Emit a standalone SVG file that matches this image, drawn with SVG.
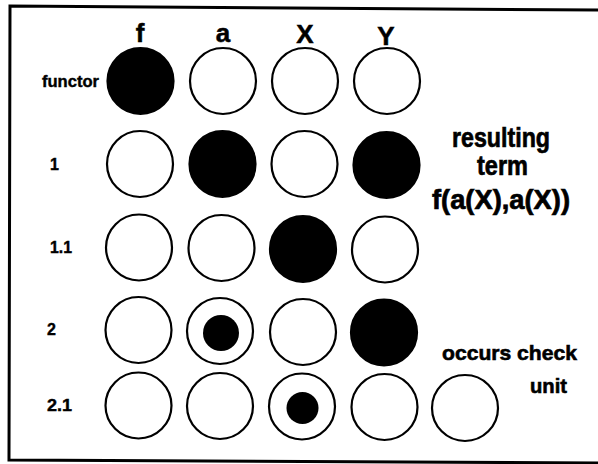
<svg xmlns="http://www.w3.org/2000/svg" width="598" height="464" viewBox="0 0 598 464">
<style>
  text { font-family: "Liberation Sans", Arial, sans-serif; font-weight: bold; fill: #000; stroke: #000; stroke-width: 0.5; }
  .hdr { font-size: 26px; text-anchor: middle; }
  .row { font-size: 16px; stroke-width: 0.4; }
  .big { font-size: 28px; stroke-width: 0.7; }
  .med { font-size: 21px; stroke-width: 0.6; }
  .c { fill: #fff; stroke: #000; stroke-width: 2.2; }
  .f { fill: #000; stroke: #000; stroke-width: 2.2; }
  .dot { fill: #000; }
  .frame { fill: none; stroke: #000; stroke-width: 3; }
</style>
<rect width="598" height="464" fill="#fff"/>
<g id="frame">
  <path class="frame" d="M598,10 L10,6 L9,460 L598,463"/>
</g>
<g id="headers">
  <text class="hdr" x="140" y="42">f</text>
  <text class="hdr" x="223" y="42">a</text>
  <text class="hdr" x="305" y="43">X</text>
  <text class="hdr" x="386" y="45">Y</text>
</g>
<g id="row-labels">
  <text class="row" x="42" y="87" textLength="57" lengthAdjust="spacingAndGlyphs">functor</text>
  <text class="row" x="50" y="170">1</text>
  <text class="row" x="50" y="253" textLength="22" lengthAdjust="spacingAndGlyphs">1.1</text>
  <text class="row" x="47" y="335">2</text>
  <text class="row" x="47" y="411" textLength="25" lengthAdjust="spacingAndGlyphs">2.1</text>
</g>
<g id="row-functor">
  <circle class="f" cx="140.5" cy="81" r="33"/>
  <circle class="c" cx="223" cy="81" r="33"/>
  <circle class="c" cx="305" cy="81" r="33"/>
  <circle class="c" cx="387" cy="81" r="33"/>
</g>
<g id="row-1">
  <circle class="c" cx="140" cy="164" r="33"/>
  <circle class="f" cx="222.5" cy="164" r="33"/>
  <circle class="c" cx="304.5" cy="164" r="33"/>
  <circle class="f" cx="386.5" cy="165" r="33"/>
</g>
<g id="row-1-1">
  <circle class="c" cx="139" cy="247.5" r="33"/>
  <circle class="c" cx="221.5" cy="248" r="33"/>
  <circle class="f" cx="303" cy="249" r="33"/>
  <circle class="c" cx="385" cy="249.5" r="33"/>
</g>
<g id="row-2">
  <circle class="c" cx="138.5" cy="330" r="33"/>
  <circle class="c" cx="220" cy="331" r="33"/>
  <circle class="dot" cx="221" cy="333" r="18"/>
  <circle class="c" cx="303" cy="332" r="33"/>
  <circle class="f" cx="384" cy="332.5" r="33"/>
</g>
<g id="row-2-1">
  <circle class="c" cx="138.5" cy="405.5" r="33"/>
  <circle class="c" cx="220" cy="406" r="33"/>
  <circle class="c" cx="302" cy="406.5" r="33"/>
  <circle class="dot" cx="302.5" cy="408" r="16"/>
  <circle class="c" cx="384.5" cy="407" r="33"/>
  <circle class="c" cx="465" cy="408" r="33"/>
</g>
<g id="result-label">
  <text class="big" x="452" y="147" textLength="98" lengthAdjust="spacingAndGlyphs">resulting</text>
  <text class="big" x="477" y="175" textLength="51" lengthAdjust="spacingAndGlyphs">term</text>
  <text class="big" x="432" y="209" textLength="138" lengthAdjust="spacingAndGlyphs">f(a(X),a(X))</text>
</g>
<g id="occurs-label">
  <text class="med" x="442" y="360" textLength="135" lengthAdjust="spacingAndGlyphs">occurs check</text>
  <text class="med" x="530" y="393" textLength="37" lengthAdjust="spacingAndGlyphs">unit</text>
</g>
</svg>
